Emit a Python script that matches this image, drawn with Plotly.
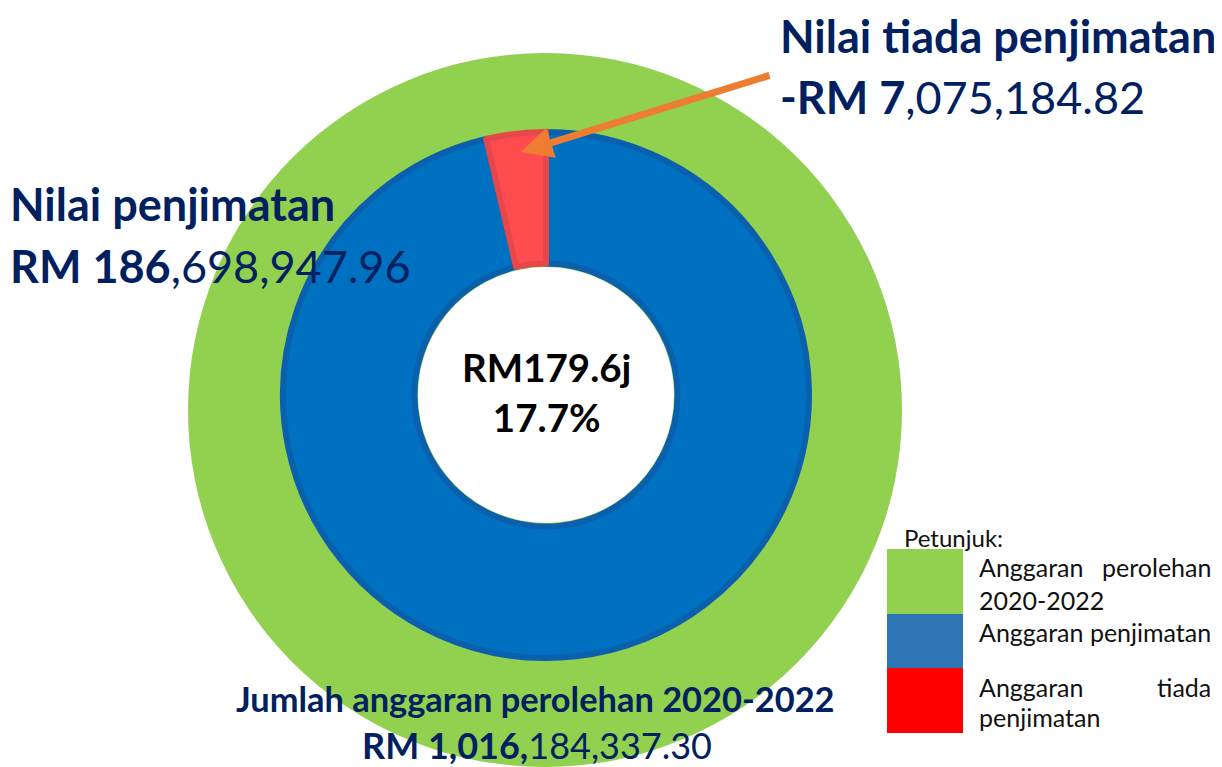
import plotly.graph_objects as go

# ---------------- data ----------------
total_label = ["Anggaran perolehan 2020-2022"]
total_values = [1016184337.30]

inner_labels = ["Anggaran penjimatan", "Anggaran tiada penjimatan"]
inner_values = [186698947.96, 7075184.82]

legend_title = "Petunjuk:"
legend_colors = ["#92D050", "#2E75B6", "#FF0000"]

# ---------------- layout helpers ----------------
OFF = 8  # page body margin
W, H = 1222 - OFF, 767 - OFF
NAVY = "#002060"
FONT = "Lato"


def px(x):
    return (x - OFF) / W


def py(y):
    return 1 - (y - OFF) / H


net = inner_values[0] - inner_values[1]
pct = net / total_values[0] * 100
center_text = f"<b>RM{net/1e6:.1f}j<br>{pct:.1f}%</b>"

fig = go.Figure()

# outer green disk
fig.add_trace(go.Pie(
    labels=total_label, values=total_values,
    marker=dict(colors=["#92D050"], line=dict(width=0)),
    textinfo="none", hoverinfo="label+value", sort=False,
    domain=dict(x=[px(188), px(902)], y=[py(767), py(53)]),
    showlegend=False,
))

# inner donut
fig.add_trace(go.Pie(
    labels=inner_labels, values=inner_values,
    hole=0.5, sort=False, direction="clockwise", rotation=0,
    marker=dict(colors=["#0070C0", "#FF4D4F"],
                line=dict(color=["#0A60AC", "#E5474B"], width=6)),
    textinfo="none", hoverinfo="label+value",
    domain=dict(x=[px(283), px(809)], y=[py(658), py(132)]),
    showlegend=False,
))

shapes = []
# white centre
cx, cy, r = 546, 395, 128
shapes.append(dict(type="circle", xref="paper", yref="paper",
                   x0=px(cx - r), x1=px(cx + r), y0=py(cy + r), y1=py(cy - r),
                   fillcolor="white", line=dict(width=0), layer="above"))

# legend swatches
sw_y = [549, 614, 668, 733]
for i, col in enumerate(legend_colors):
    shapes.append(dict(type="rect", xref="paper", yref="paper",
                       x0=px(887), x1=px(963), y0=py(sw_y[i + 1]), y1=py(sw_y[i]),
                       fillcolor=col, line=dict(width=0), layer="above"))

annotations = []


def txt(x, y, text, size, color=NAVY, xanchor="left", family=FONT):
    annotations.append(dict(x=px(x), y=py(y), xref="paper", yref="paper",
                            text=text, showarrow=False, xanchor=xanchor,
                            yanchor="middle",
                            font=dict(size=size, color=color, family=family)))


# headings
txt(778, 36, "<b>Nilai tiada penjimatan</b>", 45)
txt(778, 97, "<b>-RM 7</b>,075,184.82", 45)
txt(8, 204, "<b>Nilai penjimatan</b>", 45)
txt(8, 266, "<b>RM 186</b>,698,947.96", 45)
txt(535, 698, "<b>Jumlah anggaran perolehan 2020-2022</b>", 34.4, xanchor="center")
txt(537, 745, "<b>RM 1,016,</b>184,337.30", 36, xanchor="center")

# centre text
annotations.append(dict(x=px(546), y=py(392), xref="paper", yref="paper",
                        text=center_text, showarrow=False,
                        xanchor="center", yanchor="middle",
                        font=dict(size=38.5, color="black", family=FONT)))

# legend text
LG = "#111111"
LS = 25
txt(902, 537, legend_title, 24, color=LG)
txt(977, 567, "Anggaran", LS, color=LG)
txt(1213, 567, "perolehan", LS, color=LG, xanchor="right")
txt(977, 600, "2020-2022", LS, color=LG)
txt(977, 632, inner_labels[0], LS, color=LG)
txt(977, 687, "Anggaran", LS, color=LG)
txt(1213, 687, "tiada", LS, color=LG, xanchor="right")
txt(977, 717, "penjimatan", LS, color=LG)

# orange arrow
annotations.append(dict(x=px(521), y=py(152), xref="paper", yref="paper",
                        ax=250, ay=-77, axref="pixel", ayref="pixel",
                        text="", showarrow=True, arrowhead=2, arrowsize=0.9,
                        arrowwidth=7, arrowcolor="#ED7D31"))

fig.update_layout(
    width=W, height=H,
    margin=dict(l=0, r=0, t=0, b=0),
    paper_bgcolor="white", plot_bgcolor="white",
    shapes=shapes, annotations=annotations,
    showlegend=False,
)

fig.write_html("out.html")
